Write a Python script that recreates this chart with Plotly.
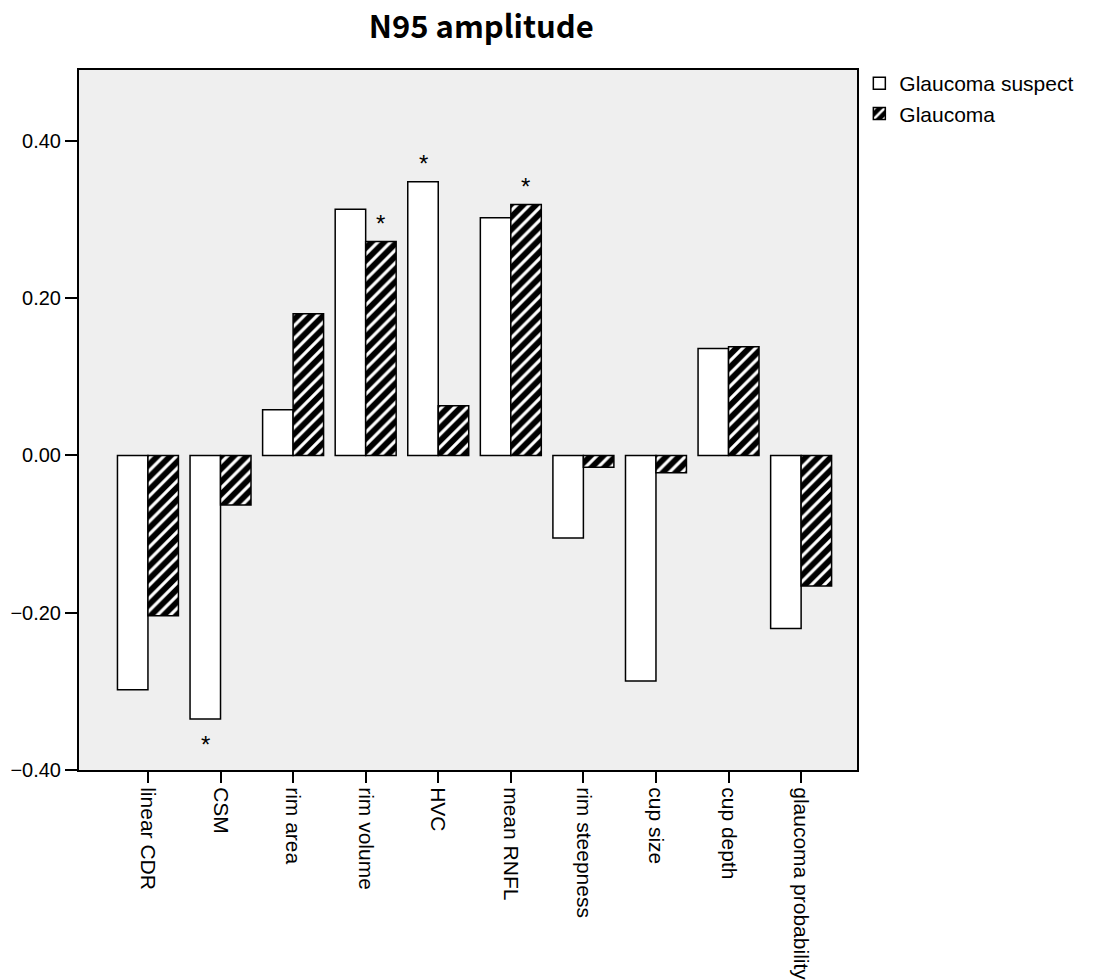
import plotly.graph_objects as go

categories = ["linear CDR", "CSM", "rim area", "rim volume", "HVC", "mean RNFL",
              "rim steepness", "cup size", "cup depth", "glaucoma probability"]
suspect = [-0.298, -0.335, 0.058, 0.313, 0.348, 0.302, -0.105, -0.287, 0.136, -0.220]
glaucoma = [-0.204, -0.063, 0.180, 0.272, 0.063, 0.319, -0.015, -0.022, 0.138, -0.166]
y_ticks = [-0.40, -0.20, 0.00, 0.20, 0.40]
# significance markers: (category, series)
stars = [("CSM", "suspect"), ("rim volume", "glaucoma"), ("HVC", "suspect"), ("mean RNFL", "glaucoma")]

fig = go.Figure()
fig.add_trace(go.Bar(
    x=categories, y=suspect, name="Glaucoma suspect",
    marker=dict(color="white", line=dict(color="black", width=1.5)),
))
fig.add_trace(go.Bar(
    x=categories, y=glaucoma, name="Glaucoma",
    marker=dict(color="black", line=dict(color="black", width=1.5),
                pattern=dict(shape="/", fgcolor="white", bgcolor="black",
                             size=9, solidity=0.35, fillmode="replace")),
))

annotations = []
for cat, ser in stars:
    idx = categories.index(cat)
    val = suspect[idx] if ser == "suspect" else glaucoma[idx]
    shift = -15 if ser == "suspect" else 15
    annotations.append(dict(
        x=cat, y=val, xref="x", yref="y", text="*", showarrow=False,
        xshift=shift, yshift=(18 if val > 0 else -26),
        font=dict(size=24, color="black", family="Liberation Sans"),
    ))

fig.update_layout(
    width=1099, height=980,
    margin=dict(l=79, r=242, t=70, b=210, autoexpand=False),
    paper_bgcolor="white", plot_bgcolor="#efefef",
    barmode="group", bargap=0.16, bargroupgap=0,
    title=dict(text="<b>N95 amplitude</b>", x=0.517, xref="paper", xanchor="center",
               y=1 - 27 / 980, yref="container", yanchor="middle",
               font=dict(size=31, color="black", family="Noto Sans CJK KR")),
    font=dict(family="Liberation Sans", size=20, color="black"),
    legend=dict(x=1.003, y=1.01, xanchor="left", yanchor="top",
                font=dict(size=21, family="Liberation Sans"),
                bgcolor="rgba(0,0,0,0)", tracegroupgap=0),
    annotations=annotations,
    showlegend=True,
)
fig.update_xaxes(
    type="category", range=[-0.95, 9.77], tickangle=90, automargin=False,
    showline=True, linecolor="black", linewidth=2, mirror=True,
    ticks="outside", ticklen=11, tickwidth=2, tickcolor="black",
    showgrid=False, tickfont=dict(size=21, family="Liberation Sans"),
)
fig.update_yaxes(
    range=[-0.40, 0.49], tickvals=y_ticks, tickformat=".2f", automargin=False,
    showline=True, linecolor="black", linewidth=2, mirror=True,
    ticks="outside", ticklen=12, tickwidth=2, tickcolor="black",
    showgrid=False, zeroline=False, tickfont=dict(size=20, family="Liberation Sans"),
)

fig.write_html("out.html")
